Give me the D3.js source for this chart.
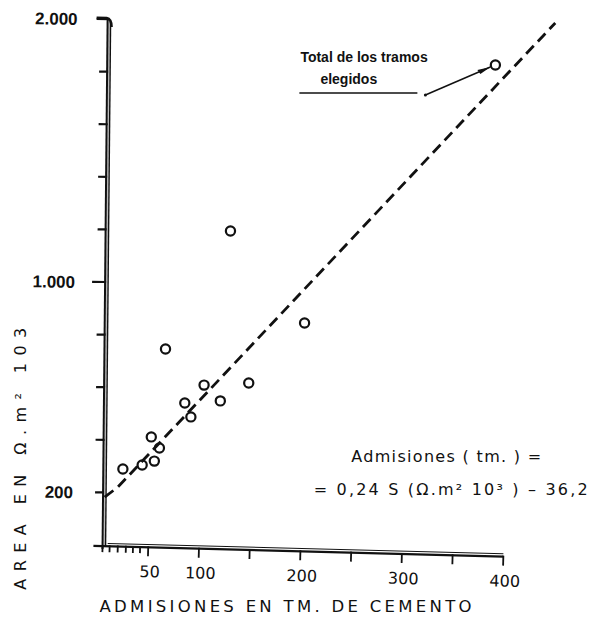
<!DOCTYPE html>
<html>
<head>
<meta charset="utf-8">
<script src="https://cdn.jsdelivr.net/npm/d3@7/dist/d3.min.js"></script>
<style>
  html, body { margin: 0; padding: 0; background: #fff; }
  svg { display: block; }
  text { font-family: "Liberation Sans", "DejaVu Sans", sans-serif; fill: #111; }
  text.dv { font-family: "DejaVu Sans", "Liberation Sans", sans-serif; }
</style>
</head>
<body>
<svg id="chart" width="593" height="619"></svg>
<script>
// ---- data ----
const admisiones = [25, 44, 53, 56, 61, 67, 86, 92, 105, 121, 131, 149, 204, 392];
const area       = [289, 304, 411, 319, 369, 745, 540, 487, 608, 548, 1194, 616, 844, 1825];
const fitLineX = [7, 20, 451];
const fitLineY = [182, 220, 1985];
const yTickValues = [200, 400, 600, 800, 1000, 1200, 1400, 1600, 1800, 2000];
const yTickLabels = ["200", "", "", "", "1.000", "", "", "", "", "2.000"];
const xMajorTicks = [50, 100, 150, 200, 250, 300, 350, 400];
const xTickLabels = ["50", "100", "", "200", "", "300", "", "400"];
const xMinorTicks = [5, 12, 20, 28, 35, 42];
const xTitle = "ADMISIONES EN TM. DE CEMENTO";
const yTitle = "AREA EN Ω.m² 103";
const noteLines = ["Total de los tramos", "elegidos"];
const eqLine1 = "Admisiones ( tm. ) =";
const eqLine2 = "= 0,24 S (Ω.m² 10³ ) – 36,2";

// ---- scales ----
const svg = d3.select("#chart");
const x = d3.scaleLinear().domain([0, 400]).range([97.5, 503.5]);
const y = d3.scaleLinear().domain([0, 2000]).range([545, 19]);
const ink = "#111";

// ---- y axis (slightly tilted double line) ----
const yAx = svg.append("g")
  .attr("transform", `rotate(0.55, ${x(5)}, ${y(0)})`);
yAx.append("rect").attr("x", x(5) + 0.8).attr("y", y(2000)).attr("width", 1.6).attr("height", y(0) - y(2000))
  .attr("fill", "#bbb");
yAx.append("line").attr("x1", x(5)).attr("x2", x(5)).attr("y1", y(0) + 4).attr("y2", y(2000))
  .attr("stroke", ink).attr("stroke-width", 2);
yAx.append("line").attr("x1", x(5) + 3).attr("x2", x(5) + 3).attr("y1", y(0) + 2).attr("y2", y(2000) + 3)
  .attr("stroke", ink).attr("stroke-width", 1.4);
yAx.selectAll("line.yt").data(yTickValues).join("line").attr("class", "yt")
  .attr("x1", (d, i) => x(5) - (yTickLabels[i] === "1.000" ? 13 : (yTickLabels[i] === "2.000" ? 11 : 8)))
  .attr("x2", x(5) + 1)
  .attr("y1", d => y(d)).attr("y2", d => y(d))
  .attr("stroke", ink).attr("stroke-width", 2.2);
// top hook
yAx.append("path")
  .attr("d", `M${x(5) - 11},${y(2000) - 1} L${x(5) - 1},${y(2000) - 1} Q${x(5) + 4},${y(2000)} ${x(5) + 4},${y(2000) + 8}`)
  .attr("fill", "none").attr("stroke", ink).attr("stroke-width", 2.6);
yAx.selectAll("text.yl").data(yTickValues).join("text").attr("class", "yl")
  .attr("x", x(5) - 30).attr("y", d => y(d) + 6)
  .attr("text-anchor", "end").attr("font-size", 17).attr("font-weight", "bold")
  .text((d, i) => yTickLabels[i]);

// ---- x axis (slightly tilted) ----
const xAx = svg.append("g")
  .attr("transform", `rotate(1.5, ${x(0)}, ${y(0)})`);
xAx.append("line").attr("x1", x(-4)).attr("x2", x(400)).attr("y1", y(0) + 1).attr("y2", y(0) + 1)
  .attr("stroke", ink).attr("stroke-width", 2.2);
xAx.append("line").attr("x1", x(10)).attr("x2", x(400)).attr("y1", y(0) - 1.8).attr("y2", y(0) - 1.8)
  .attr("stroke", ink).attr("stroke-width", 1);
xAx.selectAll("line.xm").data(xMajorTicks).join("line").attr("class", "xm")
  .attr("x1", d => x(d)).attr("x2", d => x(d))
  .attr("y1", y(0)).attr("y2", y(0) + 10)
  .attr("stroke", ink).attr("stroke-width", 1.8);
xAx.selectAll("line.xn").data(xMinorTicks).join("line").attr("class", "xn")
  .attr("x1", d => x(d)).attr("x2", d => x(d))
  .attr("y1", y(0)).attr("y2", y(0) + 7)
  .attr("stroke", ink).attr("stroke-width", 1.8);
xAx.selectAll("text.xl").data(xMajorTicks).join("text").attr("class", "xl dv")
  .attr("x", d => x(d) + 2).attr("y", y(0) + 31)
  .attr("text-anchor", "middle").attr("font-size", 16)
  .text((d, i) => xTickLabels[i]);

// ---- axis titles ----
svg.append("text").attr("class", "dv")
  .attr("x", x(2)).attr("y", y(0) + 67)
  .attr("font-size", 16.5)
  .attr("textLength", 372).attr("lengthAdjust", "spacing")
  .text(xTitle);
svg.append("text").attr("class", "dv")
  .attr("transform", `translate(${x(0) - 72}, ${y(-170)}) rotate(-90)`)
  .attr("font-size", 16)
  .attr("textLength", 262).attr("lengthAdjust", "spacing")
  .text(yTitle);

// ---- fitted dashed line ----
const linePts = fitLineX.map((v, i) => [v, fitLineY[i]]);
svg.append("path")
  .datum(linePts)
  .attr("d", d3.line().x(d => x(d[0])).y(d => y(d[1])))
  .attr("fill", "none").attr("stroke", ink).attr("stroke-width", 2.8)
  .attr("stroke-dasharray", "11,6");

// ---- points ----
const pts = admisiones.map((v, i) => ({ a: v, s: area[i] }));
svg.selectAll("circle.pt").data(pts).join("circle").attr("class", "pt")
  .attr("cx", d => x(d.a)).attr("cy", d => y(d.s))
  .attr("r", 4.6).attr("fill", "none").attr("stroke", ink).attr("stroke-width", 2.2);

// ---- annotation ----
const last = pts[pts.length - 1];
const px = x(last.a), py = y(last.s);
svg.append("text").attr("x", px - 195).attr("y", py - 3)
  .attr("font-size", 14).attr("font-weight", "bold").text(noteLines[0]);
svg.append("text").attr("x", px - 175).attr("y", py + 19)
  .attr("font-size", 14).attr("font-weight", "bold").text(noteLines[1]);
svg.append("line").attr("x1", px - 196).attr("x2", px - 78).attr("y1", py + 28).attr("y2", py + 28)
  .attr("stroke", ink).attr("stroke-width", 1.6);
svg.append("line").attr("x1", px - 70).attr("x2", px - 5).attr("y1", py + 30).attr("y2", py + 2)
  .attr("stroke", ink).attr("stroke-width", 1.5);
svg.append("circle").attr("cx", px - 70).attr("cy", py + 30).attr("r", 1.5).attr("fill", ink);
svg.append("path")
  .attr("d", `M${px - 5},${py + 2} L${px - 18},${py + 5} L${px - 15},${py + 9} Z`)
  .attr("fill", ink);

// ---- equation ----
svg.append("text").attr("class", "dv").attr("x", x(250)).attr("y", y(315))
  .attr("font-size", 16)
  .attr("textLength", 190).attr("lengthAdjust", "spacing").text(eqLine1);
svg.append("text").attr("class", "dv").attr("x", x(213)).attr("y", y(190))
  .attr("font-size", 16)
  .attr("textLength", 274).attr("lengthAdjust", "spacing").text(eqLine2);
</script>
</body>
</html>
